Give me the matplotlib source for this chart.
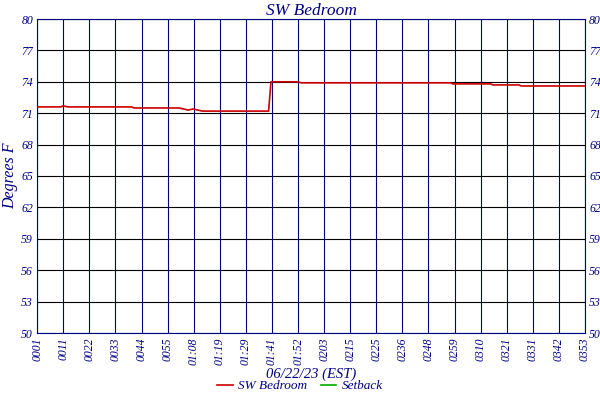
import matplotlib
matplotlib.use("Agg")
import matplotlib.pyplot as plt

NAVY = "#000080"

# minutes after 00:01 and temperature (deg F)
minutes = [0, 10, 11, 13, 40, 41, 42, 60, 64, 66, 68, 70, 98, 99, 110, 112, 140, 150, 175, 176, 192, 193, 204, 205, 232]
temps = [71.6, 71.6, 71.7, 71.6, 71.6, 71.5, 71.5, 71.5, 71.3, 71.4, 71.3, 71.2, 71.2, 74.0, 74.0, 73.9, 73.9, 73.9, 73.9, 73.8, 73.8, 73.7, 73.7, 73.6, 73.6]

x_labels = ["0001", "0011", "0022", "0033", "0044", "0055", "01:08", "01:19", "01:29", "01:41",
            "01:52", "0203", "0215", "0225", "0236", "0248", "0259", "0310", "0321", "0331",
            "0342", "0353"]
y_ticks = [50, 53, 56, 59, 62, 65, 68, 71, 74, 77, 80]

font = dict(family="Liberation Serif", style="italic", color=NAVY)

fig = plt.figure(figsize=(6, 4), dpi=100)
ax = fig.add_axes([0.062, 0.1675, 0.913, 0.785])

span = 232
xt = [i * span / (len(x_labels) - 1) for i in range(len(x_labels))]
ax.set_xlim(0, span)
ax.set_ylim(50, 80)
ax.set_xticks(xt)
ax.set_xticklabels(x_labels, rotation=90, fontsize=8.5, **font)
ax.set_yticks(y_ticks)
ax.set_yticklabels([str(v) for v in y_ticks], fontsize=8.5, **font)
for v in y_ticks:
    ax.axhline(v, color="black", lw=0.8, zorder=1)
for v in xt:
    ax.axvline(v, color=NAVY, lw=0.8, zorder=2)
ax.tick_params(length=0, pad=3, right=True, labelright=True)
for s in ax.spines.values():
    s.set_color(NAVY)

ax.plot(minutes, temps, color="#cc0000", lw=1.2, zorder=3, label="SW Bedroom")
ax.plot([], [], color="#00aa00", lw=1.2, label="Setback")

ax.set_title("SW Bedroom", fontsize=12.5, pad=3, **font)
ax.set_ylabel("Degrees F", fontsize=11.5, labelpad=2, **font)
ax.set_xlabel("06/22/23 (EST)", fontsize=10.5, labelpad=2, **font)

leg = fig.legend(loc="lower center", ncol=2, frameon=False, bbox_to_anchor=(0.5, -0.01),
                 prop=dict(family="Liberation Serif", style="italic", size=9.5),
                 handlelength=1.2, columnspacing=1.0, handletextpad=0.4)
for t in leg.get_texts():
    t.set_color(NAVY)

fig.savefig("out.png", dpi=100)
